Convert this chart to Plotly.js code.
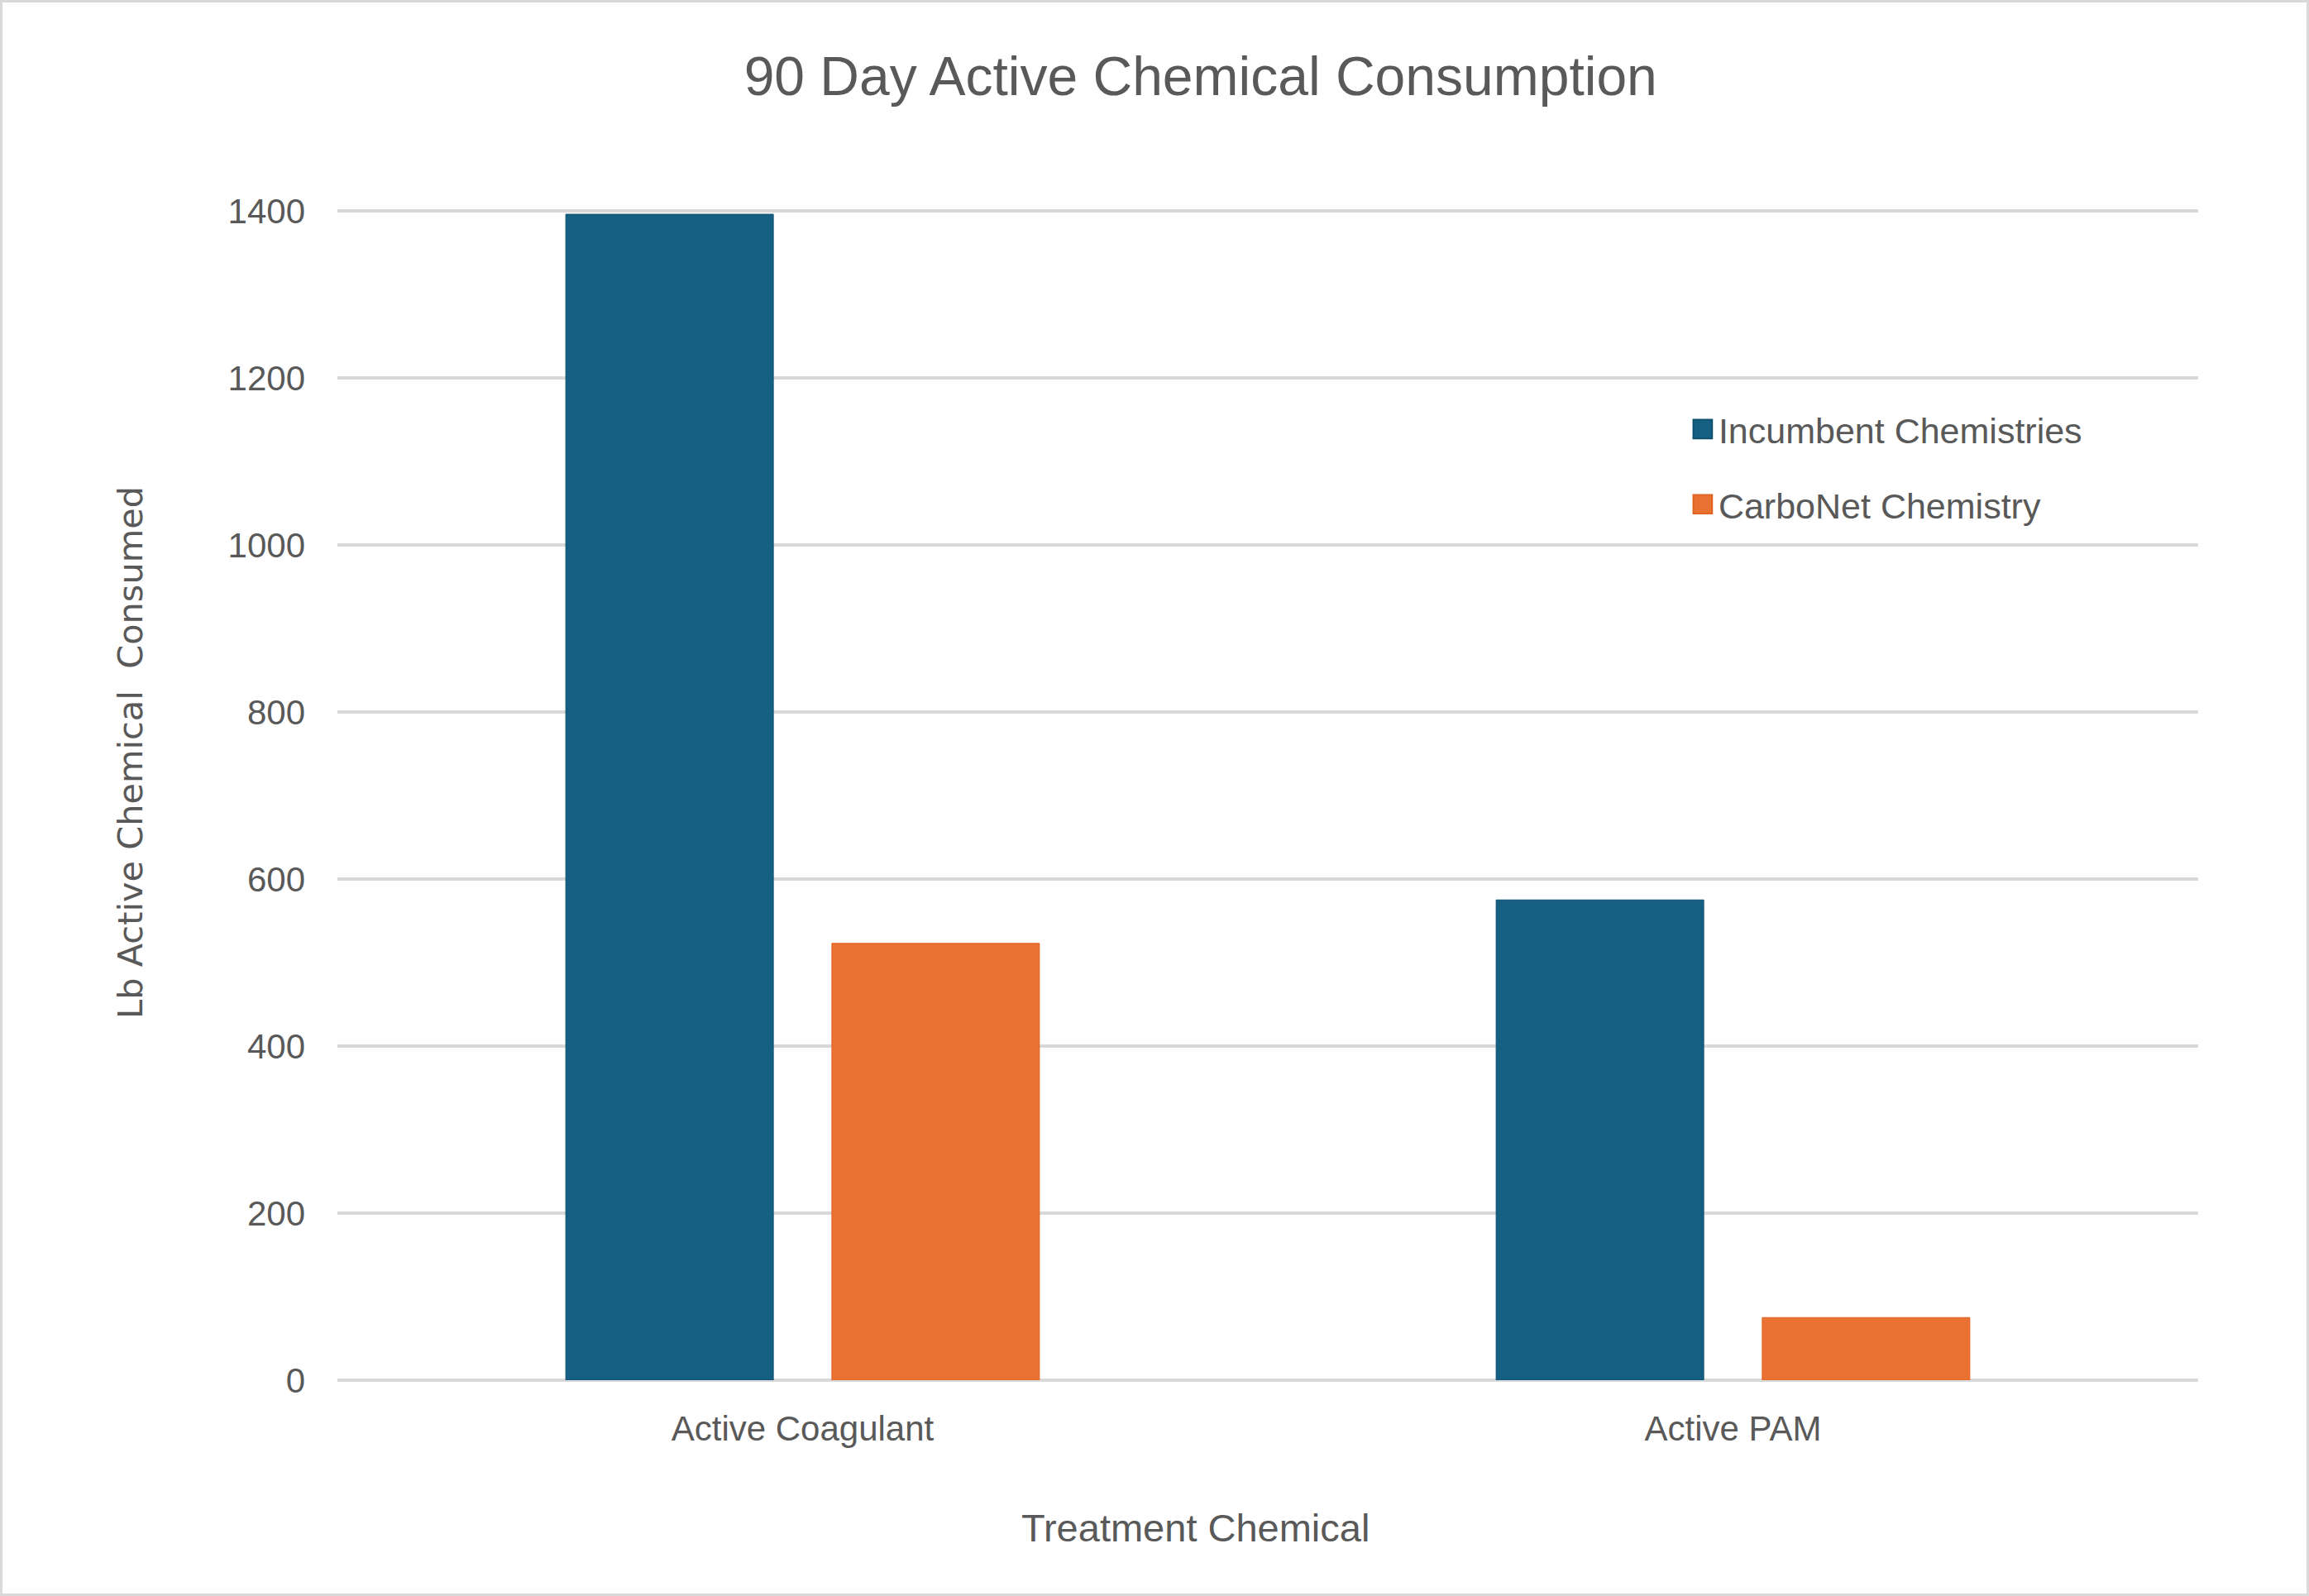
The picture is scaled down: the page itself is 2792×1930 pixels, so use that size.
<!DOCTYPE html>
<html>
<head>
<meta charset="utf-8">
<script src="https://cdn.plot.ly/plotly-3.0.1.min.js"></script>
<style>
  html, body { margin: 0; padding: 0; background: #ffffff; }
  #grafica { width: 2792px; height: 1930px; box-sizing: border-box; border: 3px solid #d9d9d9; }
</style>
</head>
<body>
<div id="grafica"></div>
<script>
const categorias = ['Active Coagulant', 'Active PAM'];
const incumbente = [1396, 575];
const carbonet = [523, 75];
const ticksY = [0, 200, 400, 600, 800, 1000, 1200, 1400];

const fuente = 'Liberation Sans, Arial, sans-serif';
const gris = '#595959';

const trazaIncumbente = {
  x: categorias,
  y: incumbente,
  type: 'bar',
  name: 'Incumbent Chemistries',
  legendgroup: 'a',
  marker: { color: '#156082', line: { color: '#0f4f6e', width: 1 } }
};

const trazaCarbonet = {
  x: categorias,
  y: carbonet,
  type: 'bar',
  name: 'CarboNet Chemistry',
  legendgroup: 'b',
  marker: { color: '#e97132', line: { color: '#e0621f', width: 1 } }
};

const layout = {
  width: 2786,
  height: 1924,
  paper_bgcolor: '#ffffff',
  plot_bgcolor: '#ffffff',
  font: { family: fuente, color: gris, size: 42 },
  title: {
    text: '90 Day Active Chemical Consumption',
    font: { family: fuente, size: 66, color: gris },
    x: 0.520,
    xanchor: 'center',
    y: 0.954,
    yanchor: 'middle'
  },
  barmode: 'group',
  bargap: 0.428,
  bargroupgap: 0.22,
  showlegend: true,
  legend: {
    x: 0.7244,
    y: 0.836,
    xanchor: 'left',
    yanchor: 'top',
    bgcolor: 'rgba(0,0,0,0)',
    font: { family: fuente, size: 43, color: gris },
    tracegroupgap: 32,
    itemwidth: 30
  },
  xaxis: {
    showline: false,
    ticks: '',
    tickfont: { family: fuente, size: 42, color: gris },
    ticklabelstandoff: 30
  },
  yaxis: {
    range: [0, 1403],
    tickvals: ticksY,
    showgrid: true,
    gridcolor: '#d9d9d9',
    gridwidth: 4,
    zeroline: true,
    zerolinecolor: '#d9d9d9',
    zerolinewidth: 4,
    showline: false,
    ticks: '',
    ticklabelstandoff: 38,
    tickfont: { family: fuente, size: 42, color: gris }
  },
  annotations: [
    {
      text: 'Treatment Chemical',
      xref: 'paper', yref: 'paper',
      x: 0.461, y: -0.1263,
      xanchor: 'center', yanchor: 'middle',
      showarrow: false,
      font: { family: fuente, size: 47, color: gris }
    },
    {
      text: 'Lb Active Chemical  Consumed',
      xref: 'paper', yref: 'paper',
      x: -0.1116, y: 0.5356,
      xanchor: 'center', yanchor: 'middle',
      textangle: -90,
      showarrow: false,
      font: { family: 'DejaVu Sans, sans-serif', size: 41.5, color: gris }
    }
  ],
  margin: { l: 405, r: 131, t: 249, b: 258, pad: 0 }
};

Plotly.newPlot('grafica', [trazaIncumbente, trazaCarbonet], layout, { displayModeBar: false, staticPlot: true })
  .then(() => {
    // the legend squares in the original are about twice Plotly's default size
    document.querySelectorAll('#grafica .legend .legendpoints path').forEach(p => {
      const previo = p.getAttribute('transform') || '';
      p.setAttribute('transform', previo + ' translate(1,0) scale(1.9)');
    });
  });
</script>
</body>
</html>
